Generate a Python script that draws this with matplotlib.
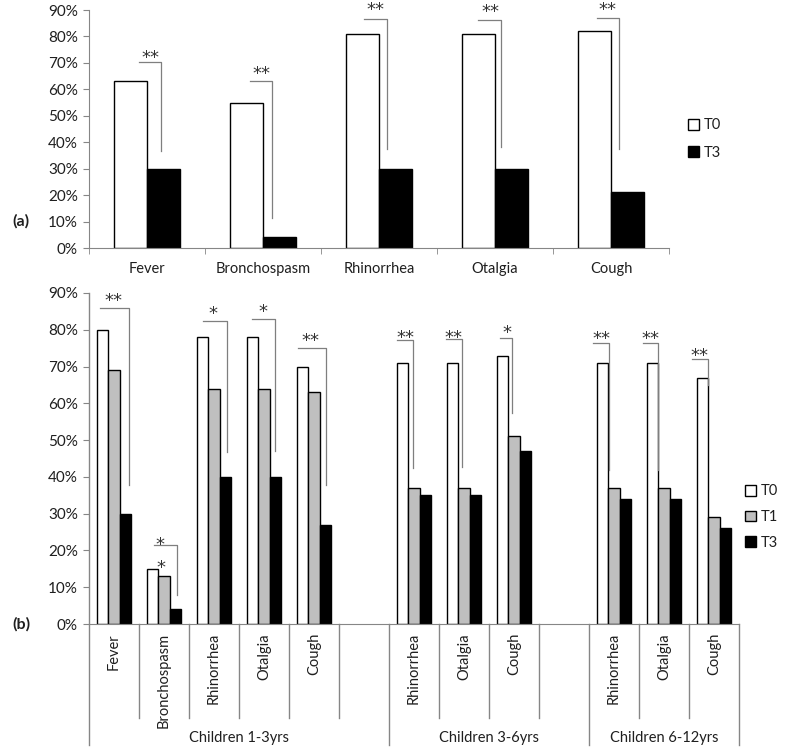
import numpy as np
import matplotlib.pyplot as plt
from matplotlib.transforms import blended_transform_factory, offset_copy

plt.rcParams['font.family'] = ['Lato', 'DejaVu Sans']
plt.rcParams['font.size'] = 10

# ---- panel (a) data ----
a_symptoms = ['Fever', 'Bronchospasm', 'Rhinorrhea', 'Otalgia', 'Cough']
a_t0 = [63, 55, 81, 81, 82]
a_t3 = [30, 4, 30, 30, 21]
a_sig = ['**', '**', '**', '**', '**']
# significance brackets (offset from category centre, % heights)
a_br_x0 = [-0.07, -0.11, -0.13, -0.15, -0.12]
a_br_x1 = [0.12, 0.08, 0.07, 0.05, 0.07]
a_br_top = [70.5, 63, 86.7, 86.4, 87.1]
a_br_bot = [36.7, 11.4, 37.5, 38.3, 37.5]
a_star_x = [0.03, -0.01, -0.03, -0.04, -0.03]
a_star_y = [74.1, 67.7, 91.9, 91.5, 91.9]

# ---- panel (b) data ----
b_groups = ['Children 1-3yrs', 'Children 3-6yrs', 'Children 6-12yrs']
b_symptoms = [['Fever', 'Bronchospasm', 'Rhinorrhea', 'Otalgia', 'Cough'],
              ['Rhinorrhea', 'Otalgia', 'Cough'],
              ['Rhinorrhea', 'Otalgia', 'Cough']]
b_t0 = [80, 15, 78, 78, 70, 71, 71, 73, 71, 71, 67]
b_t1 = [69, 13, 64, 64, 63, 37, 37, 51, 37, 37, 29]
b_t3 = [30, 4, 40, 40, 27, 35, 35, 47, 34, 34, 26]
b_sig = ['**', '*', '*', '*', '**', '**', '**', '*', '**', '**', '**']
b_br_x0 = [-0.28, -0.20, -0.22, -0.24, -0.32, -0.34, -0.36, -0.28, -0.42, -0.42, -0.44]
b_br_x1 = [0.30, 0.26, 0.26, 0.22, 0.24, -0.02, -0.04, -0.04, -0.10, -0.12, -0.12]
b_br_top = [85.9, 21.5, 82.3, 82.9, 75.0, 77.2, 77.4, 77.7, 76.4, 76.4, 72.0]
b_br_bot = [37.8, 7.9, 46.7, 47.0, 37.8, 42.4, 42.7, 57.3, 41.8, 41.8, 65.0]
b_star_x = [-0.02, -0.08, -0.02, -0.02, -0.08, -0.18, -0.22, -0.14, -0.26, -0.28, -0.30]
b_star_y = [89.4, 23.1, 85.9, 86.4, 78.5, 79.3, 79.3, 80.7, 79.1, 79.1, 74.5]

W, H = 787, 748
def rect(l, t, r, b):
    return [l / W, 1 - b / H, (r - l) / W, (b - t) / H]

txt = '#1f1f1f'
grey = '#868686'
brk = '#7f7f7f'
star_font = dict(family='DejaVu Sans', fontsize=13, color='#333333')

fig = plt.figure(figsize=(W / 100, H / 100), dpi=100)

def style_y(ax):
    ax.set_ylim(0, 90)
    ax.set_yticks(np.arange(0, 91, 10))
    ax.set_yticklabels([f'{v}%' for v in range(0, 91, 10)])
    ax.spines[['top', 'right']].set_visible(False)
    ax.spines['left'].set_color(grey)
    ax.spines['bottom'].set_color(grey)
    ax.tick_params(axis='y', length=4, color=grey, labelcolor=txt, labelsize=11, pad=4)

def star(ax, x, y, s):
    # asterisks sit high in the glyph box, shift baseline so the glyph centre lands on y
    tr = offset_copy(ax.transData, fig=fig, y=-10.5, units='dots')
    ax.text(x, y, s, ha='center', va='baseline', transform=tr, clip_on=False, **star_font)

# ---------------- panel (a) ----------------
ax1 = fig.add_axes(rect(89, 10, 669, 248))
xa = np.arange(len(a_symptoms))
wa = 0.285
ha0 = ax1.bar(xa - wa / 2, a_t0, wa, color='white', edgecolor='black', lw=1.0, label='T0')
ha3 = ax1.bar(xa + wa / 2, a_t3, wa, color='black', edgecolor='black', lw=1.0, label='T3')
ax1.set_xlim(-0.5, len(a_symptoms) - 0.5)
style_y(ax1)
ax1.set_xticks(xa)
ax1.set_xticklabels(a_symptoms)
ax1.set_xticks(np.arange(-0.5, len(a_symptoms)), minor=True)
ax1.tick_params(axis='x', which='major', length=0, pad=10, labelcolor=txt, labelsize=10.5)
ax1.tick_params(axis='x', which='minor', length=4, color=grey)
for i in range(len(a_symptoms)):
    x0, x1 = i + a_br_x0[i], i + a_br_x1[i]
    ax1.plot([x0, x1, x1], [a_br_top[i], a_br_top[i], a_br_bot[i]], color=brk, lw=0.9, clip_on=False)
    star(ax1, i + a_star_x[i], a_star_y[i], a_sig[i])
fig.legend(handles=[ha0, ha3], labels=['T0', 'T3'], loc='center left',
           bbox_to_anchor=(688 / W, 1 - 139 / H), frameon=False, handlelength=0.75,
           handleheight=0.75, handletextpad=0.3, labelspacing=0.9, borderpad=0,
           borderaxespad=0, fontsize=10.5, labelcolor=txt)
fig.text(21 / W, 1 - 221 / H, '(a)', fontweight='bold', ha='center', va='center', fontsize=11.5, color=txt)

# ---------------- panel (b) ----------------
ax2 = fig.add_axes(rect(89, 293, 739, 624))
pos, names = [], []
start = 0
for g, syms in enumerate(b_symptoms):
    for k, s in enumerate(syms):
        pos.append(start + k)
        names.append(s)
    start += len(syms) + 1
pos = np.array(pos)
nslots = start - 1
wb = 0.225
hb0 = ax2.bar(pos - wb, b_t0, wb, color='white', edgecolor='black', lw=1.0, label='T0')
hb1 = ax2.bar(pos, b_t1, wb, color='#bfbfbf', edgecolor='black', lw=1.0, label='T1')
hb3 = ax2.bar(pos + wb, b_t3, wb, color='black', edgecolor='black', lw=1.0, label='T3')
ax2.set_xlim(-0.5, nslots - 0.5)
style_y(ax2)
ax2.spines['left'].set_visible(False)
ax2.set_xticks([])

tr = blended_transform_factory(ax2.transData, ax2.transAxes)
# category dividers
group_edges = [-0.5]
start = 0
for syms in b_symptoms:
    start += len(syms) + 1
    group_edges.append(min(start, nslots) - 0.5)
for e in np.arange(-0.5, nslots):
    if e in group_edges:
        ax2.plot([e, e], [1, -0.366] if e == -0.5 else [0, -0.366], color=grey, lw=1.0,
                 transform=tr, clip_on=False)
    else:
        ax2.plot([e, e], [0, -0.284], color=grey, lw=1.0, transform=tr, clip_on=False)
for p, n in zip(pos, names):
    ax2.text(p, -0.027, n, rotation=90, ha='center', va='top', transform=tr,
             fontsize=10.5, color=txt)
for g, name in enumerate(b_groups):
    ax2.text((group_edges[g] + group_edges[g + 1]) / 2, -0.344, name, ha='center', va='center',
             transform=tr, fontsize=10.5, color=txt)

for i, p in enumerate(pos):
    x0, x1 = p + b_br_x0[i], p + b_br_x1[i]
    ax2.plot([x0, x1, x1], [b_br_top[i], b_br_top[i], b_br_bot[i]], color=brk, lw=0.9, clip_on=False)
    star(ax2, p + b_star_x[i], b_star_y[i], b_sig[i])
# extra single star over the bronchospasm bars
star(ax2, pos[1] - 0.06, 16.6, '*')

fig.legend(handles=[hb0, hb1, hb3], labels=['T0', 'T1', 'T3'], loc='center left',
           bbox_to_anchor=(745 / W, 1 - 517 / H), frameon=False, handlelength=0.75,
           handleheight=0.75, handletextpad=0.3, labelspacing=0.8, borderpad=0,
           borderaxespad=0, fontsize=10.5, labelcolor=txt)
fig.text(21 / W, 1 - 624 / H, '(b)', fontweight='bold', ha='center', va='center', fontsize=11.5, color=txt)

fig.savefig('out.png', dpi=100)
